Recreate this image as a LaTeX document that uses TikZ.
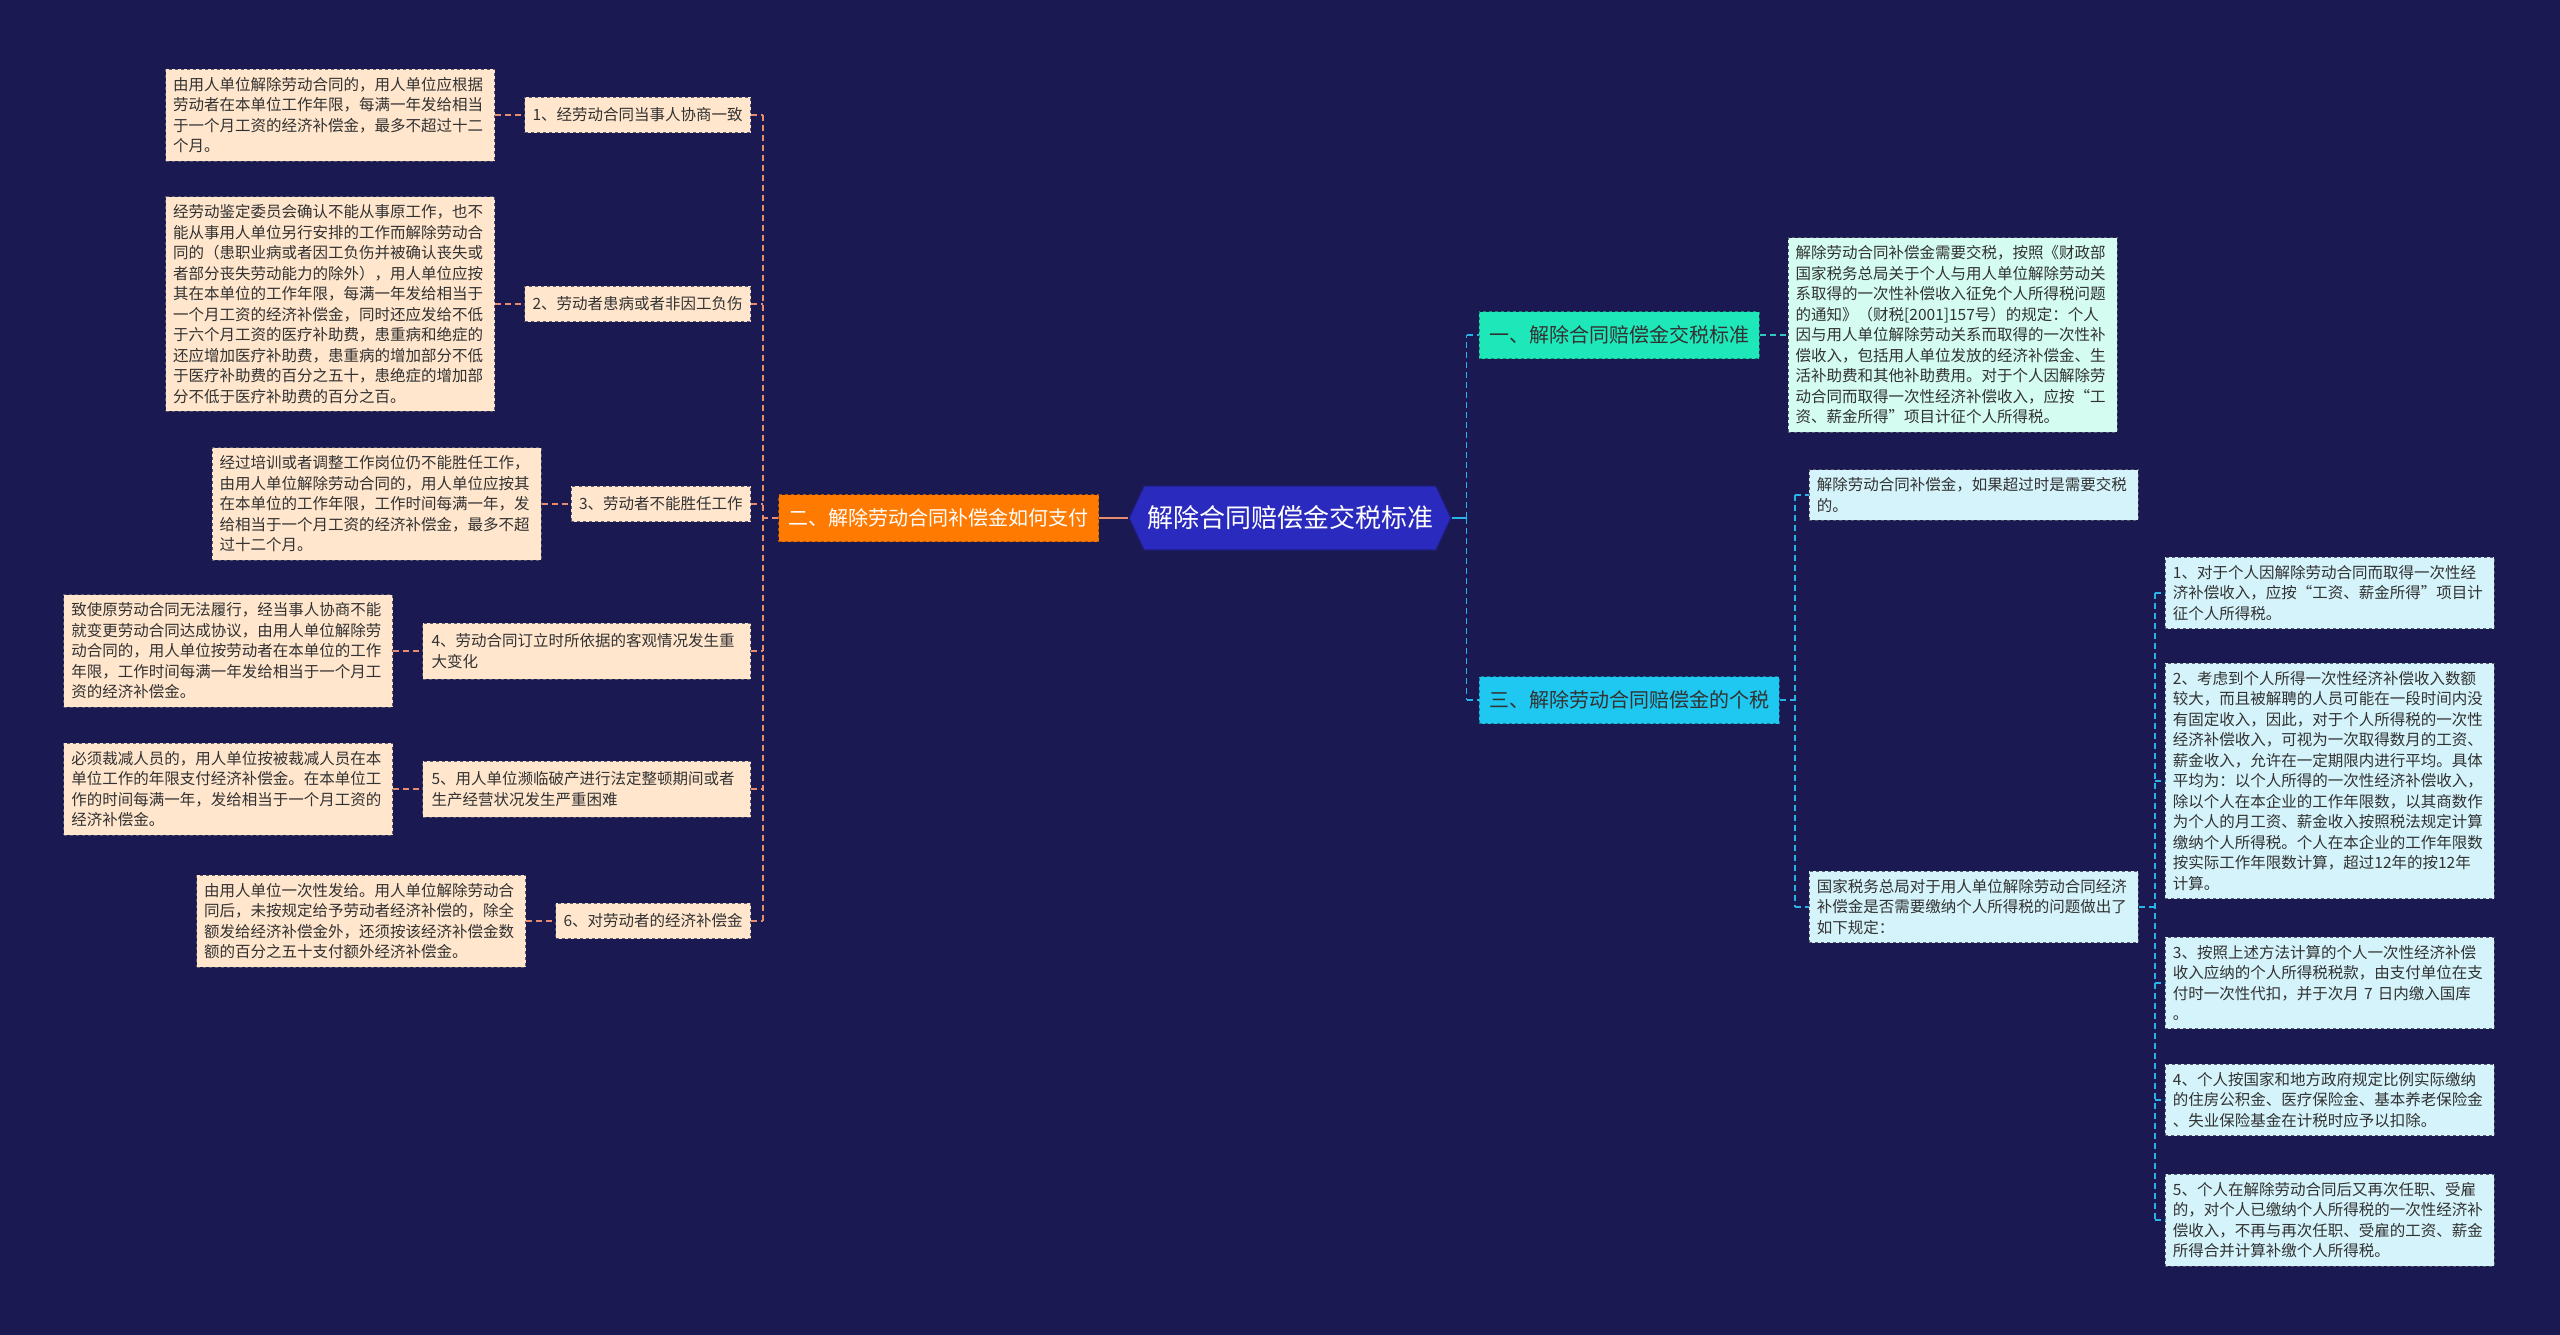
\documentclass[tikz,border=0pt]{standalone}
\usepackage{fontspec}
\newfontfamily\cjk{Noto Sans CJK SC}
\usetikzlibrary{shapes.symbols}
\definecolor{bg}{RGB}{26,25,82}
\definecolor{ctrfill}{RGB}{42,42,190}
\definecolor{ctrborder}{RGB}{30,30,120}
\definecolor{orangefill}{RGB}{255,122,0}
\definecolor{aquafill}{RGB}{30,232,186}
\definecolor{cyanfill}{RGB}{30,200,240}
\definecolor{peach}{RGB}{255,230,205}
\definecolor{mintleaf}{RGB}{212,252,240}
\definecolor{cyanleaf}{RGB}{212,243,250}
\definecolor{leafborder}{RGB}{90,90,110}
\definecolor{txt}{RGB}{50,50,50}
\definecolor{lline}{RGB}{232,140,110}
\definecolor{rline}{RGB}{40,180,230}
\definecolor{mline}{RGB}{50,200,190}
\begin{document}
\begin{tikzpicture}[x=1pt,y=-1pt,
  base/.style={font=\cjk\fontsize{15.5pt}{20.5pt}\selectfont, text=txt, align=left, inner ysep=8pt},
  lleaf/.style={base, fill=peach, draw=leafborder, dashed, line width=0.8pt, text width=314pt, inner xsep=7.5pt},
  lab/.style={base, fill=peach, draw=leafborder, dashed, line width=0.8pt, inner xsep=8pt, inner ysep=10.5pt},
  rleaf/.style={base, fill=cyanleaf, draw=leafborder, dashed, line width=0.8pt, text width=314pt, inner xsep=7.5pt},
  mleaf/.style={base, fill=mintleaf, draw=leafborder, dashed, line width=0.8pt, text width=314pt, inner xsep=7.5pt},
  branch/.style={font=\cjk\fontsize{20pt}{24pt}\selectfont, inner xsep=10pt, minimum height=47pt, dashed, line width=0.8pt},
  ctr/.style={signal, signal to=east and west, signal pointer angle=130, fill=ctrfill, draw=ctrborder, line width=1.2pt, text=white, font=\cjk\fontsize{26pt}{30pt}\selectfont, minimum height=64pt, inner xsep=3pt},
  lcon/.style={draw=lline, line width=1.6pt, dash pattern=on 6pt off 4pt},
  rcon/.style={draw=rline, line width=1.6pt, dash pattern=on 6pt off 4pt},
  mcon/.style={draw=mline, line width=1.6pt, dash pattern=on 6pt off 4pt}
]
\fill[bg] (0,0) rectangle (2560,1335);
\useasboundingbox (0,0) rectangle (2560,1335);

% center
\node[ctr] (c) at (1290,518) {解除合同赔偿金交税标准};

% left branch
\node[branch, fill=orangefill, draw=orangefill!70!black, text=white, anchor=east] (b2) at (1099,518) {二、解除劳动合同补偿金如何支付};

\node[lab, anchor=east] (l1) at (751,115) {1、经劳动合同当事人协商一致};
\node[lab, anchor=east] (l2) at (751,304) {2、劳动者患病或者非因工负伤};
\node[lab, anchor=east] (l3) at (751,504) {3、劳动者不能胜任工作};
\node[lab, anchor=east, text width=310pt, inner xsep=9pt] (l4) at (751,651) {4、劳动合同订立时所依据的客观情况发生重\\大变化};
\node[lab, anchor=east, text width=310pt, inner xsep=9pt] (l5) at (751,789) {5、用人单位濒临破产进行法定整顿期间或者\\生产经营状况发生严重困难};
\node[lab, anchor=east] (l6) at (751,921) {6、对劳动者的经济补偿金};

\node[lleaf, anchor=east] (p1) at ([xshift=-29pt]l1.west) {由用人单位解除劳动合同的，用人单位应根据\\劳动者在本单位工作年限，每满一年发给相当\\于一个月工资的经济补偿金，最多不超过十二\\个月。};
\node[lleaf, anchor=east] (p2) at ([xshift=-29pt]l2.west) {经劳动鉴定委员会确认不能从事原工作，也不\\能从事用人单位另行安排的工作而解除劳动合\\同的（患职业病或者因工负伤并被确认丧失或\\者部分丧失劳动能力的除外），用人单位应按\\其在本单位的工作年限，每满一年发给相当于\\一个月工资的经济补偿金，同时还应发给不低\\于六个月工资的医疗补助费，患重病和绝症的\\还应增加医疗补助费，患重病的增加部分不低\\于医疗补助费的百分之五十，患绝症的增加部\\分不低于医疗补助费的百分之百。};
\node[lleaf, anchor=east] (p3) at ([xshift=-29pt]l3.west) {经过培训或者调整工作岗位仍不能胜任工作，\\由用人单位解除劳动合同的，用人单位应按其\\在本单位的工作年限，工作时间每满一年，发\\给相当于一个月工资的经济补偿金，最多不超\\过十二个月。};
\node[lleaf, anchor=east] (p4) at ([xshift=-29pt]l4.west) {致使原劳动合同无法履行，经当事人协商不能\\就变更劳动合同达成协议，由用人单位解除劳\\动合同的，用人单位按劳动者在本单位的工作\\年限，工作时间每满一年发给相当于一个月工\\资的经济补偿金。};
\node[lleaf, anchor=east] (p5) at ([xshift=-29pt]l5.west) {必须裁减人员的，用人单位按被裁减人员在本\\单位工作的年限支付经济补偿金。在本单位工\\作的时间每满一年，发给相当于一个月工资的\\经济补偿金。};
\node[lleaf, anchor=east] (p6) at ([xshift=-29pt]l6.west) {由用人单位一次性发给。用人单位解除劳动合\\同后，未按规定给予劳动者经济补偿的，除全\\额发给经济补偿金外，还须按该经济补偿金数\\额的百分之五十支付额外经济补偿金。};

% left connectors
\draw[draw=lline, line width=1.6pt] (c.west) -- (b2.east);
\coordinate (ljoin) at ([xshift=-15pt]b2.west);
\draw[lcon] (b2.west) -- (ljoin);
\draw[lcon] (ljoin |- l1.east) -- (ljoin |- l6.east);
\foreach \i in {1,...,6}{
  \draw[lcon] (l\i.east) -- (ljoin |- l\i.east);
  \draw[lcon] (p\i.east) -- (l\i.west);
}

% right branches
\node[branch, fill=aquafill, draw=aquafill!60!black, text=txt, anchor=west] (b1) at (1479,335) {一、解除合同赔偿金交税标准};
\node[branch, fill=cyanfill, draw=cyanfill!60!black, text=txt, anchor=west] (b3) at (1479,700) {三、解除劳动合同赔偿金的个税};

\node[mleaf, anchor=west] (r1) at ([xshift=28pt]b1.east) {解除劳动合同补偿金需要交税，按照《财政部\\国家税务总局关于个人与用人单位解除劳动关\\系取得的一次性补偿收入征免个人所得税问题\\的通知》（财税[2001]157号）的规定：个人\\因与用人单位解除劳动关系而取得的一次性补\\偿收入，包括用人单位发放的经济补偿金、生\\活补助费和其他补助费用。对于个人因解除劳\\动合同而取得一次性经济补偿收入，应按“工\\资、薪金所得”项目计征个人所得税。};

\node[rleaf, anchor=west] (ca) at (1809,495) {解除劳动合同补偿金，如果超过时是需要交税\\的。};
\node[rleaf, anchor=west] (cb) at (1809,907) {国家税务总局对于用人单位解除劳动合同经济\\补偿金是否需要缴纳个人所得税的问题做出了\\如下规定：};

\node[rleaf, anchor=west] (i1) at (2165,593) {1、对于个人因解除劳动合同而取得一次性经\\济补偿收入，应按“工资、薪金所得”项目计\\征个人所得税。};
\node[rleaf, anchor=west] (i2) at (2165,781) {2、考虑到个人所得一次性经济补偿收入数额\\较大，而且被解聘的人员可能在一段时间内没\\有固定收入，因此，对于个人所得税的一次性\\经济补偿收入，可视为一次取得数月的工资、\\薪金收入，允许在一定期限内进行平均。具体\\平均为：以个人所得的一次性经济补偿收入，\\除以个人在本企业的工作年限数，以其商数作\\为个人的月工资、薪金收入按照税法规定计算\\缴纳个人所得税。个人在本企业的工作年限数\\按实际工作年限数计算，超过12年的按12年\\计算。};
\node[rleaf, anchor=west] (i3) at (2165,983) {3、按照上述方法计算的个人一次性经济补偿\\收入应纳的个人所得税税款，由支付单位在支\\付时一次性代扣，并于次月 7 日内缴入国库\\。};
\node[rleaf, anchor=west] (i4) at (2165,1100) {4、个人按国家和地方政府规定比例实际缴纳\\的住房公积金、医疗保险金、基本养老保险金\\、失业保险基金在计税时应予以扣除。};
\node[rleaf, anchor=west] (i5) at (2165,1220) {5、个人在解除劳动合同后又再次任职、受雇\\的，对个人已缴纳个人所得税的一次性经济补\\偿收入，不再与再次任职、受雇的工资、薪金\\所得合并计算补缴个人所得税。};

% right connectors
\coordinate (rjoin) at ([xshift=15pt]c.east);
\draw[draw=rline, line width=1.6pt] (c.east) -- (rjoin);
\draw[rcon] (rjoin) -- (rjoin |- b1.west);
\draw[rcon] (rjoin) -- (rjoin |- b3.west);
\draw[rcon] (rjoin |- b1.west) -- (b1.west);
\draw[rcon] (rjoin |- b3.west) -- (b3.west);
\draw[mcon] (b1.east) -- (r1.west);

\coordinate (tjoin) at ([xshift=15pt]b3.east);
\draw[rcon] (b3.east) -- (tjoin);
\draw[rcon] (tjoin |- ca.west) -- (tjoin |- cb.west);
\draw[rcon] (tjoin |- ca.west) -- (ca.west);
\draw[rcon] (tjoin |- cb.west) -- (cb.west);

\coordinate (qjoin) at ([xshift=16pt]cb.east);
\draw[rcon] (cb.east) -- (qjoin);
\draw[rcon] (qjoin |- i1.west) -- (qjoin |- i5.west);
\foreach \i in {1,...,5}{
  \draw[rcon] (qjoin |- i\i.west) -- (i\i.west);
}
\end{tikzpicture}
\end{document}
